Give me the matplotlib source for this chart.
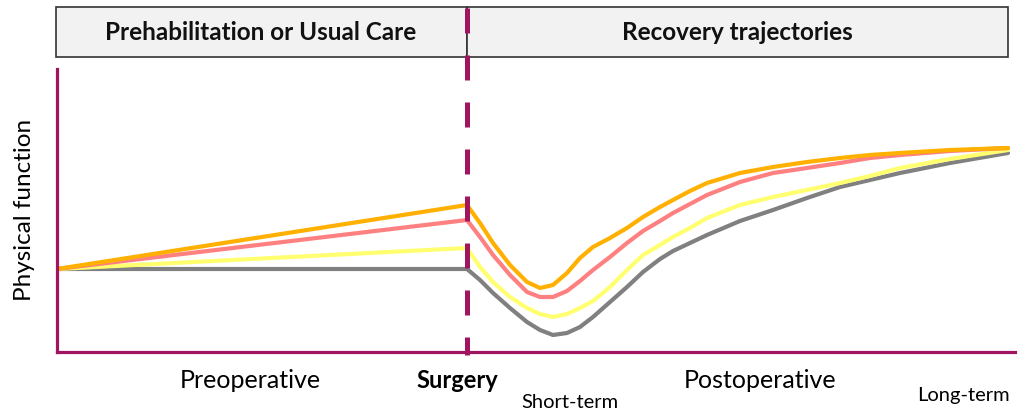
import matplotlib
matplotlib.use("Agg")
import matplotlib.pyplot as plt
from matplotlib.patches import Rectangle

plt.rcParams['font.family'] = ['Lato', 'DejaVu Sans']

# time (arbitrary units, surgery at 410) and physical function (arbitrary units)
surgery_t = 410
pre_t = [0, 410]
pre_orange = [83, 147]
pre_pink = [83, 132]
pre_yellow = [83, 104]
pre_gray = [83, 83]

post_t = [410, 423, 436, 453, 470, 483, 496, 510, 523, 536, 553, 570, 586,
          603, 616, 633, 650, 683, 716, 750, 783, 813, 843, 893, 951]
post_orange = [147, 129, 109, 87, 70, 64, 67, 79, 94, 105, 114, 124, 135,
               145, 152, 161, 169, 179, 185, 190, 194, 197, 199, 202, 204]
post_pink = [132, 115, 97, 77, 60, 55, 55, 61, 71, 82, 95, 109, 121,
             131, 139, 148, 157, 170, 179, 184, 189, 194, 197, 201, 204]
post_yellow = [104, 85, 70, 55, 44, 38, 35, 38, 44, 51, 65, 82, 97,
               107, 115, 124, 134, 147, 155, 162, 169, 176, 184, 193, 202]
post_gray = [83, 72, 59, 44, 30, 22, 17, 19, 25, 35, 50, 65, 80,
             93, 101, 109, 117, 131, 142, 154, 165, 172, 179, 189, 199]

colors = ["#808080", "#FFFF70", "#FF8080", "#FFB000"]
maroon = "#A0155F"

fig = plt.figure(figsize=(10.24, 4.12), dpi=100)

# overlay for header boxes and labels (pixel coords)
ov = fig.add_axes([0, 0, 1, 1], zorder=0)
ov.set_xlim(0, 1024)
ov.set_ylim(412, 0)
ov.axis("off")

ax = fig.add_axes([57 / 1024, (412 - 352) / 412, (1015 - 57) / 1024, (352 - 69) / 412], zorder=1)
ax.set_facecolor("none")
ax.set_xlim(0, 958)
ax.set_ylim(0, 283)

pre = [pre_gray, pre_yellow, pre_pink, pre_orange]
post = [post_gray, post_yellow, post_pink, post_orange]
for c, p, q in zip(colors, pre, post):
    ax.plot(pre_t, p, color=c, lw=3, solid_joinstyle="round", solid_capstyle="round")
    ax.plot(post_t, q, color=c, lw=3, solid_joinstyle="round", solid_capstyle="round")

# surgery marker, runs up through the header
ax.plot([surgery_t, surgery_t], [344, -3], color=maroon, lw=3.6,
        linestyle=(0, (5, 4.4)), clip_on=False, zorder=5)

for s in ["top", "right"]:
    ax.spines[s].set_visible(False)
for s in ["left", "bottom"]:
    ax.spines[s].set_color(maroon)
    ax.spines[s].set_linewidth(2.3)
ax.set_xticks([])
ax.set_yticks([])

# header boxes
ov.add_patch(Rectangle((56, 7), 411, 50, facecolor="#F2F2F2", edgecolor="#333333", lw=1.2))
ov.add_patch(Rectangle((467, 7), 541, 50, facecolor="#F2F2F2", edgecolor="#333333", lw=1.2))
ov.text(261, 32, "Prehabilitation or Usual Care", ha="center", va="center",
        fontsize=17.5, fontweight="bold", color="#111111")
ov.text(737, 32, "Recovery trajectories", ha="center", va="center",
        fontsize=17.5, fontweight="bold", color="#111111")

ov.text(25, 210, "Physical function", rotation=90, ha="center", va="center", fontsize=17.5)
ov.text(250, 381, "Preoperative", ha="center", va="center", fontsize=18)
ov.text(457, 381, "Surgery", ha="center", va="center", fontsize=17, fontweight="bold")
ov.text(570, 403, "Short-term", ha="center", va="center", fontsize=14.5)
ov.text(760, 381, "Postoperative", ha="center", va="center", fontsize=18)
ov.text(963, 396, "Long-term", ha="center", va="center", fontsize=14.5)

fig.savefig("out.png", dpi=100)
